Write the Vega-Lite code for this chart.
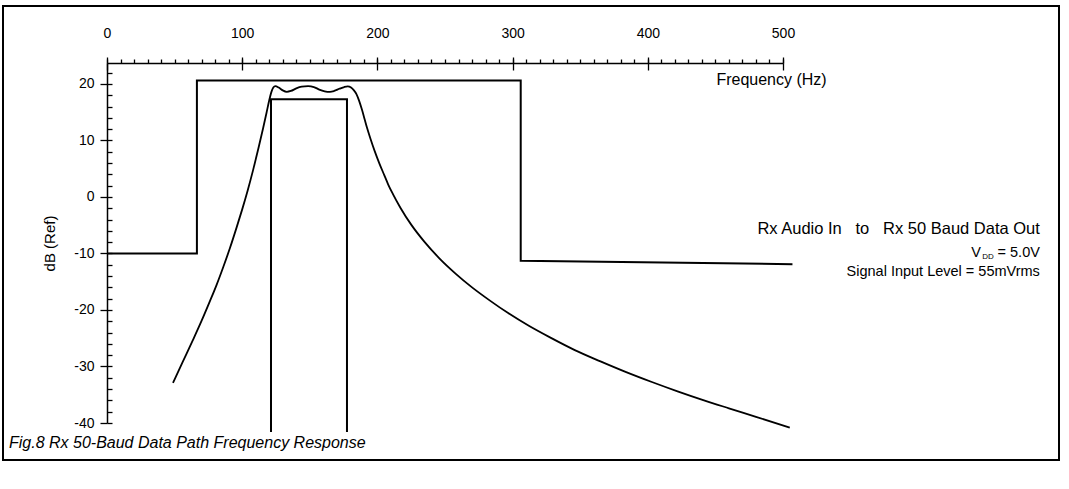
{
  "$schema": "https://vega.github.io/schema/vega-lite/v6.json",
  "width": 1056,
  "height": 454,
  "autosize": {"type": "none"},
  "padding": {"left": 3, "top": 6, "right": 10, "bottom": 29},
  "background": "white",
  "config": {
    "font": "Liberation Sans",
    "view": {"stroke": "black", "strokeWidth": 2},
    "axis": {
      "grid": false,
      "domainColor": "black",
      "tickColor": "black",
      "labelColor": "black",
      "titleColor": "black",
      "labelFont": "Liberation Sans",
      "titleFont": "Liberation Sans",
      "labelFontSize": 14,
      "titleFontSize": 15,
      "titleFontWeight": "normal",
      "domainWidth": 1.5,
      "tickWidth": 1.3
    }
  },
  "title": {
    "text": "Fig.8 Rx 50-Baud Data Path Frequency Response",
    "orient": "bottom",
    "anchor": "start",
    "frame": "group",
    "offset": -17,
    "dx": 6,
    "baseline": "middle",
    "fontSize": 16,
    "fontStyle": "italic",
    "fontWeight": "normal",
    "color": "black",
    "font": "Liberation Sans"
  },
  "datasets": {
    "outerMask": [
      {"freq": 0, "db": -10},
      {"freq": 66.5, "db": -10},
      {"freq": 66.5, "db": 20.6},
      {"freq": 306, "db": 20.6},
      {"freq": 306, "db": -11.3},
      {"freq": 507, "db": -11.9}
    ],
    "innerMask": [
      {"freq": 121.3, "db": -41.6},
      {"freq": 121.3, "db": 17.3},
      {"freq": 177.5, "db": 17.3},
      {"freq": 177.5, "db": -41.6}
    ],
    "response": [
      {"freq": 48.8, "db": -32.9},
      {"freq": 56, "db": -29.2},
      {"freq": 63.6, "db": -25.3},
      {"freq": 70, "db": -21.9},
      {"freq": 76.2, "db": -18.4},
      {"freq": 81, "db": -15.6},
      {"freq": 86, "db": -12.4},
      {"freq": 91, "db": -9.0},
      {"freq": 96, "db": -5.3},
      {"freq": 100, "db": -2.2},
      {"freq": 104, "db": 1.1},
      {"freq": 108, "db": 4.7},
      {"freq": 112, "db": 8.6},
      {"freq": 115.5, "db": 12.2},
      {"freq": 118, "db": 14.9},
      {"freq": 120, "db": 17.1},
      {"freq": 121.5, "db": 18.5},
      {"freq": 123, "db": 19.35},
      {"freq": 124.5, "db": 19.6},
      {"freq": 127, "db": 19.35},
      {"freq": 130, "db": 18.85},
      {"freq": 133, "db": 18.6},
      {"freq": 136, "db": 18.75},
      {"freq": 140, "db": 19.2},
      {"freq": 144, "db": 19.5},
      {"freq": 148.7, "db": 19.6},
      {"freq": 153, "db": 19.45},
      {"freq": 157, "db": 19.0},
      {"freq": 161, "db": 18.7},
      {"freq": 164.9, "db": 18.6},
      {"freq": 168, "db": 18.75},
      {"freq": 172, "db": 19.15},
      {"freq": 175.5, "db": 19.45},
      {"freq": 178, "db": 19.55},
      {"freq": 180.5, "db": 19.35},
      {"freq": 182.5, "db": 18.9},
      {"freq": 184.5, "db": 18.2},
      {"freq": 186.5, "db": 17.0},
      {"freq": 188.5, "db": 15.5},
      {"freq": 190.5, "db": 13.8},
      {"freq": 192.5, "db": 12.1},
      {"freq": 195, "db": 10.2},
      {"freq": 198, "db": 8.1},
      {"freq": 201.5, "db": 5.9},
      {"freq": 205, "db": 3.9},
      {"freq": 208, "db": 2.2},
      {"freq": 211.5, "db": 0.5},
      {"freq": 217, "db": -1.9},
      {"freq": 225, "db": -4.9},
      {"freq": 235, "db": -8.0},
      {"freq": 246, "db": -10.9},
      {"freq": 258, "db": -13.6},
      {"freq": 270, "db": -16.0},
      {"freq": 283, "db": -18.3},
      {"freq": 297, "db": -20.6},
      {"freq": 312, "db": -22.8},
      {"freq": 328, "db": -24.9},
      {"freq": 346, "db": -27.1},
      {"freq": 365, "db": -29.1},
      {"freq": 384, "db": -31.0},
      {"freq": 403, "db": -32.75},
      {"freq": 422, "db": -34.4},
      {"freq": 441, "db": -35.95},
      {"freq": 460, "db": -37.4},
      {"freq": 480, "db": -38.9},
      {"freq": 505, "db": -40.8}
    ]
  },
  "layer": [
    {
      "data": {"name": "outerMask"},
      "mark": {"type": "line", "color": "black", "strokeWidth": 2},
      "encoding": {
        "x": {
          "field": "freq", "type": "quantitative",
          "scale": {"domain": [0, 500], "range": [104, 780], "nice": false, "zero": false},
          "axis": {
            "orient": "top", "offset": -57,
            "values": [0, 100, 200, 300, 400, 500],
            "tickSize": 6, "labelPadding": 17,
            "labelFlush": false, "labelOverlap": false,
            "title": "Frequency (Hz)", "titleX": 768, "titleY": 16,
            "titleFontSize": 16,
            "titleAlign": "center", "titleBaseline": "middle", "titleAngle": 0
          }
        },
        "y": {
          "field": "db", "type": "quantitative",
          "scale": {"domain": [-40, 23.7], "range": [417, 57], "nice": false, "zero": false},
          "axis": {
            "orient": "left", "offset": -104,
            "values": [-40, -30, -20, -10, 0, 10, 20],
            "labelExpr": "replace(datum.label, '\u2212', '-')",
            "tickSize": 7, "labelPadding": 6,
            "title": "dB (Ref)", "titleX": -58, "titleY": 237,
            "titleAlign": "center", "titleBaseline": "middle", "titleAngle": -90
          }
        },
        "order": {"value": null}
      }
    },
    {
      "data": {"name": "innerMask"},
      "mark": {"type": "line", "color": "black", "strokeWidth": 2},
      "encoding": {
        "x": {
          "field": "freq", "type": "quantitative",
          "scale": {"domain": [0, 500], "range": [104, 780], "nice": false, "zero": false},
          "axis": {
            "orient": "top", "offset": -57,
            "values": [0, 100, 200, 300, 400, 500],
            "tickSize": -7, "labels": false, "domain": false, "title": null
          }
        },
        "y": {
          "field": "db", "type": "quantitative",
          "scale": {"domain": [-40, 23.7], "range": [417, 57], "nice": false, "zero": false},
          "axis": {
            "orient": "left", "offset": -104,
            "values": [-40, -38, -36, -34, -32, -30, -28, -26, -24, -22, -20, -18, -16, -14, -12, -10, -8, -6, -4, -2, 0, 2, 4, 6, 8, 10, 12, 14, 16, 18, 20, 22],
            "tickSize": -5, "labels": false, "domain": false, "title": null
          }
        },
        "order": {"value": null}
      }
    },
    {
      "data": {"name": "response"},
      "mark": {"type": "line", "color": "black", "strokeWidth": 1.8, "interpolate": "monotone"},
      "encoding": {
        "x": {
          "field": "freq", "type": "quantitative",
          "scale": {"domain": [0, 500], "range": [104, 780], "nice": false, "zero": false},
          "axis": {
            "orient": "top", "offset": -57,
            "values": [0, 10, 20, 30, 40, 50, 60, 70, 80, 90, 100, 110, 120, 130, 140, 150, 160, 170, 180, 190, 200, 210, 220, 230, 240, 250, 260, 270, 280, 290, 300, 310, 320, 330, 340, 350, 360, 370, 380, 390, 400, 410, 420, 430, 440, 450, 460, 470, 480, 490, 500],
            "tickSize": 4, "labels": false, "domain": false, "title": null
          }
        },
        "y": {
          "field": "db", "type": "quantitative",
          "scale": {"domain": [-40, 23.7], "range": [417, 57], "nice": false, "zero": false},
          "axis": null
        },
        "order": {"value": null}
      }
    },
    {
      "data": {"values": [{}]},
      "mark": {"type": "text", "align": "right", "baseline": "middle", "fontSize": 16.5, "color": "black", "text": "Rx Audio In\u00a0\u00a0 to\u00a0\u00a0 Rx 50 Baud Data Out"},
      "encoding": {
        "x": {"datum": 690, "type": "quantitative", "axis": null},
        "y": {"datum": -5.66, "type": "quantitative", "axis": null}
      }
    },
    {
      "data": {"values": [{}]},
      "mark": {"type": "text", "align": "right", "baseline": "middle", "fontSize": 14.5, "color": "black", "text": "= 5.0V"},
      "encoding": {
        "x": {"datum": 690, "type": "quantitative", "axis": null},
        "y": {"datum": -9.93, "type": "quantitative", "axis": null}
      }
    },
    {
      "data": {"values": [{}]},
      "mark": {"type": "text", "align": "right", "baseline": "middle", "fontSize": 8, "dx": -46, "dy": 4, "color": "black", "text": "DD"},
      "encoding": {
        "x": {"datum": 690, "type": "quantitative", "axis": null},
        "y": {"datum": -9.93, "type": "quantitative", "axis": null}
      }
    },
    {
      "data": {"values": [{}]},
      "mark": {"type": "text", "align": "right", "baseline": "middle", "fontSize": 14.5, "dx": -59, "color": "black", "text": "V"},
      "encoding": {
        "x": {"datum": 690, "type": "quantitative", "axis": null},
        "y": {"datum": -9.93, "type": "quantitative", "axis": null}
      }
    },
    {
      "data": {"values": [{}]},
      "mark": {"type": "text", "align": "right", "baseline": "middle", "fontSize": 14.5, "color": "black", "text": "Signal Input Level = 55mVrms"},
      "encoding": {
        "x": {"datum": 690, "type": "quantitative", "axis": null},
        "y": {"datum": -13.2, "type": "quantitative", "axis": null}
      }
    }
  ],
  "resolve": {"axis": {"x": "independent", "y": "independent"}}
}
